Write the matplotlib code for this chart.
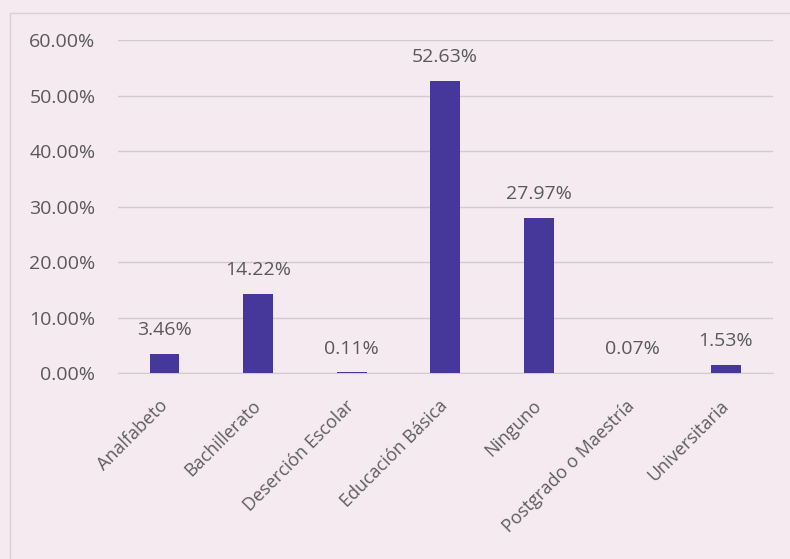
import matplotlib.pyplot as plt
import matplotlib.transforms as mtransforms
import numpy as np

# Data
categories = ['Analfabeto', 'Bachillerato', 'Deserción Escolar', 'Educación Básica',
              'Ninguno', 'Postgrado o Maestría', 'Universitaria']
values = [3.46, 14.22, 0.11, 52.63, 27.97, 0.07, 1.53]
yticks = [0, 10, 20, 30, 40, 50, 60]

plt.rcParams['font.family'] = ['Open Sans', 'DejaVu Sans']

fig = plt.figure(figsize=(7.9, 5.59), dpi=100, facecolor='#f4eaf0')
ax = fig.add_axes([0.149, 0.3327, 0.829, 0.5957])
ax.set_facecolor('#f4eaf0')

x = np.arange(len(categories))
ax.bar(x, values, width=0.32, color='#46389a', zorder=3)

# data labels, centred about 24 px above each bar
for xi, v in zip(x, values):
    ax.annotate(f'{v:.2f}%', (xi, v), xytext=(0, 17), textcoords='offset points',
                ha='center', va='center', fontsize=14, color='#595959')

ax.set_xlim(-0.5, len(categories) - 0.5)
ax.set_ylim(0, 60)
ax.set_yticks(yticks)
ax.set_yticklabels([f'{t:.2f}%' for t in yticks], fontsize=14, color='#595959')
ax.set_xticks(x)
ax.set_xticklabels(categories, rotation=45, ha='right', rotation_mode='anchor',
                   fontsize=13, color='#5e5e5e')
ax.tick_params(axis='both', length=0)
ax.tick_params(axis='x', pad=17)
ax.tick_params(axis='y', pad=16)
ax.grid(axis='y', color='#d2cbd0', linewidth=1, zorder=0)
for s in ax.spines.values():
    s.set_visible(False)
ax.spines['bottom'].set_visible(True)
ax.spines['bottom'].set_color('#d2cbd0')

# nudge rotated labels so their end sits just below each tick
shift = mtransforms.ScaledTranslation(-4.5 / 72, 0, fig.dpi_scale_trans)
for lbl in ax.get_xticklabels():
    lbl.set_transform(lbl.get_transform() + shift)

# outer border of the chart area
fig.patches.append(plt.Rectangle((0.013, -0.01), 1.0, 0.987, transform=fig.transFigure,
                                 fill=False, edgecolor='#d8d0d4', linewidth=1))

fig.savefig('out.png', dpi=100, facecolor=fig.get_facecolor())
